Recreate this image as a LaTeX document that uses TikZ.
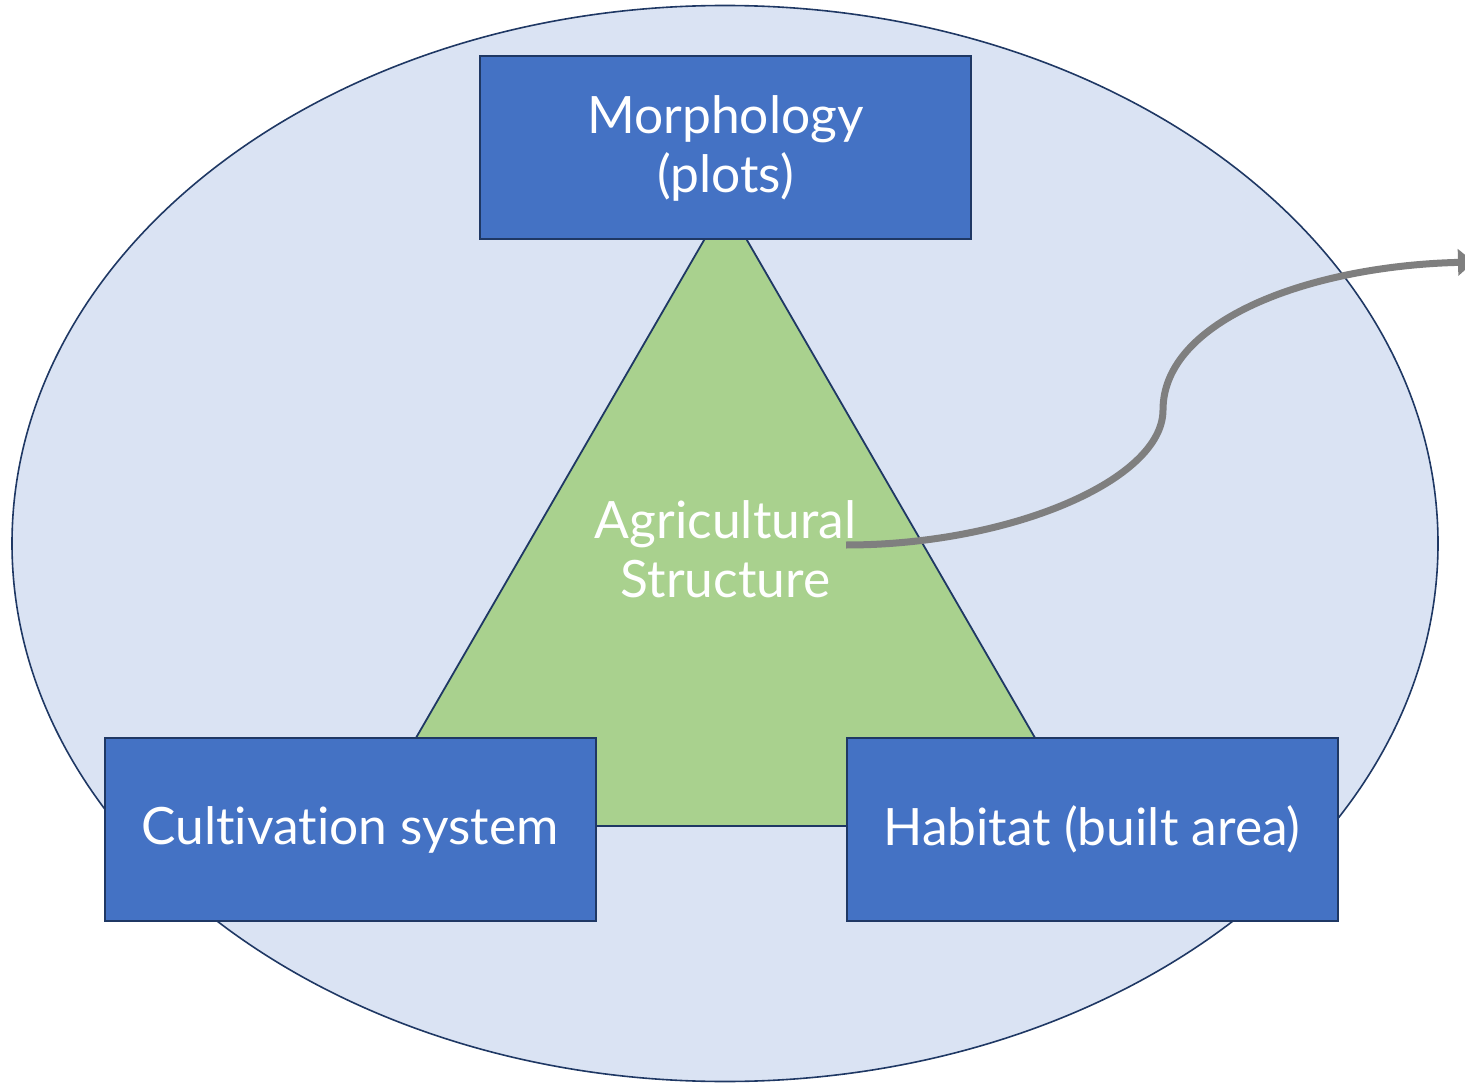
\documentclass[tikz,border=0pt]{standalone}
\usepackage{fontspec}
\setmainfont{Lato}[Ligatures={NoCommon,NoContextual}]
\usetikzlibrary{arrows.meta}
\definecolor{ellfill}{HTML}{DAE3F3}
\definecolor{navy}{HTML}{1F3864}
\definecolor{boxblue}{HTML}{4472C4}
\definecolor{trigreen}{HTML}{A9D18E}
\definecolor{arrowgray}{HTML}{7F7F7F}
\tikzset{
  bluebox/.style={draw=navy, line width=2pt, fill=boxblue, text=white, minimum width=491pt, minimum height=183pt, inner sep=0pt, align=center, font=\fontsize{51.5}{59}\selectfont},
  label/.style={text=white, align=center, font=\fontsize{51.5}{59}\selectfont},
}
\begin{document}
\begin{tikzpicture}[x=1pt,y=-1pt]
\useasboundingbox (0,0) rectangle (1465,1083);
\draw[navy, line width=1.6pt, fill=ellfill] (725,543.5) ellipse [x radius=713, y radius=538];
\draw[navy, line width=1.8pt, fill=trigreen] (725.5,203) -- (1086,826) -- (365,826) -- cycle;
\node[label] (center) at (725.5,549) {Agricultural\\Structure};
\node[bluebox] (morph) at (725.5,148) {Morphology\\(plots)};
\node[bluebox] (cult) at (350,829.5) {Cultivation system};
\node[bluebox] (hab) at (1092,829.5) {Habitat (built area)};
\coordinate (cs) at (846,545);
\coordinate (ce) at (1474,262);
\draw[arrowgray, line width=7pt, -{Triangle[length=16pt,width=26pt]}] (cs) .. controls (1010,545) and (1163,480) .. (1163,410) .. controls (1163,320) and (1310,266) .. (ce);
\end{tikzpicture}
\end{document}
